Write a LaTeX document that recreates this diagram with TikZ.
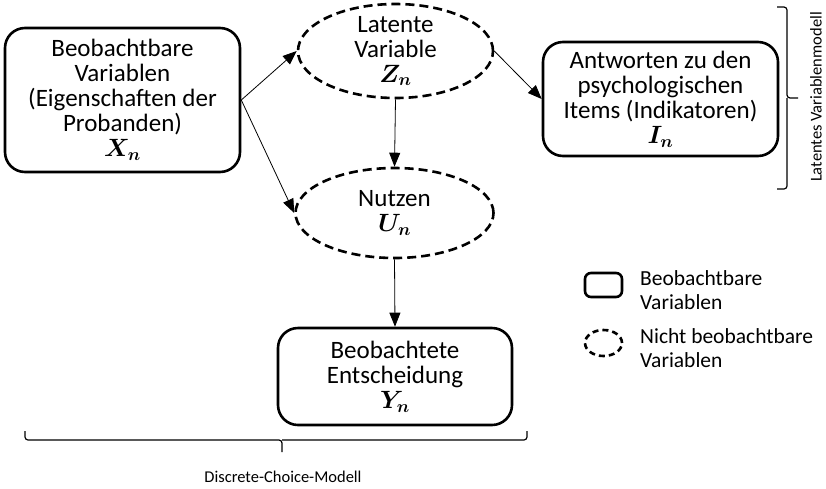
\RequirePackage{fix-cm}
\documentclass[tikz,border=0pt]{standalone}
\usepackage{fontspec}
\setmainfont{Carlito}
\usepackage{amsmath}
\usetikzlibrary{arrows.meta,shapes.geometric}
\newcommand{\mainfs}{\fontsize{25}{25}\selectfont}
\newcommand{\legfs}{\fontsize{21.5}{24}\selectfont}
\newcommand{\capfs}{\fontsize{16.5}{18}\selectfont}
\tikzset{
  obs/.style={draw,line width=2.6pt,rounded corners=20pt,align=center,inner sep=0pt,font=\mainfs},
  latent/.style={draw,ellipse,line width=2.6pt,dash pattern=on 9pt off 5pt,align=center,inner xsep=0pt,inner ysep=-10pt,font=\mainfs},
  arr/.style={-{Triangle[length=14pt,width=11pt]},line width=0.8pt},
  note/.style={align=left,anchor=west,inner sep=0pt,font=\legfs},
  brc/.style={line width=1.2pt,rounded corners=3pt}
}

\begin{document}
\begin{tikzpicture}[x=1pt,y=-1pt]
    \useasboundingbox (0,0) rectangle (826,488);
    % main nodes
    \node[obs,minimum width=235pt,minimum height=144pt] (xn) at (122.5,100) {Beobachtbare\\Variablen\\(Eigenschaften der\\Probanden)\\$\boldsymbol{X_n}$};
    \node[latent,minimum width=195pt,minimum height=94pt] (zn) at (395.5,51) {Latente\\Variable\\$\boldsymbol{Z_n}$};
    \node[obs,minimum width=235pt,minimum height=114pt] (in) at (660.5,99) {Antworten zu den\\psychologischen\\Items (Indikatoren)\\$\boldsymbol{I_n}$};
    \node[latent,minimum width=198pt,minimum height=90pt] (un) at (394.5,213) {Nutzen\\$\boldsymbol{U_n}$};
    \node[obs,minimum width=234pt,minimum height=97pt] (yn) at (395,376.5) {Beobachtete\\Entscheidung\\$\boldsymbol{Y_n}$};
    \draw[arr] (xn.east) -- (zn.west);
    \draw[arr] (xn.east) -- (un.west);
    \draw[arr] (zn.east) -- (in.west);
    \draw[arr] (zn.south) -- (un.north);
    \draw[arr] (un.south) -- (yn.north);
    % legend
    \node[draw,line width=2.6pt,rounded corners=6pt,minimum width=37pt,minimum height=24pt] (legobs) at (603.5,285) {};
    \node[draw,ellipse,line width=2.6pt,dash pattern=on 6pt off 4pt,minimum width=37pt,minimum height=26pt,inner sep=0pt] (leglat) at (603.5,343) {};
    \node[note] (txtobs) at (640,290) {Beobachtbare\\Variablen};
    \node[note] (txtlat) at (640,348) {Nicht beobachtbare\\Variablen};
    % braces
    \draw[brc] (25,431) |- (282,440) -- (282,452);
    \draw[brc] (282,440) -| (527,431);
    \node[font=\capfs] (dcm) at (283,477) {Discrete-Choice-Modell};
    \draw[brc] (777,7) -| (787,98) -- (798,98);
    \draw[brc] (787,98) |- (777,189);
    \node[font=\capfs,rotate=90] (lvm) at (816,97) {Latentes Variablenmodell};
\end{tikzpicture}
\end{document}
